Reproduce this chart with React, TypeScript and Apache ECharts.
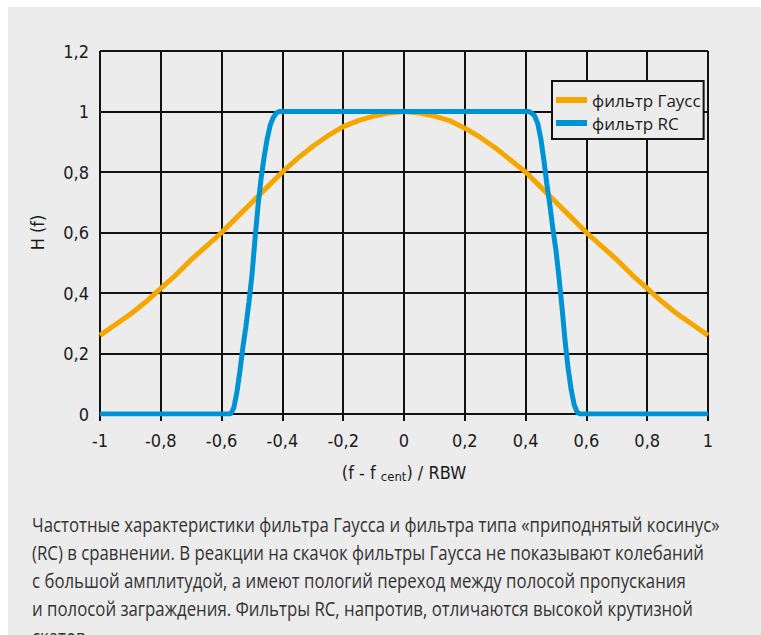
import React, { useEffect, useRef } from "react";
import * as echarts from "echarts";

const xTicks = [-1, -0.8, -0.6, -0.4, -0.2, 0, 0.2, 0.4, 0.6, 0.8, 1];
const yTicks = [0, 0.2, 0.4, 0.6, 0.8, 1, 1.2];

const gaussX = [
  -1, -0.95, -0.9, -0.85, -0.8, -0.75, -0.7, -0.65, -0.6, -0.55, -0.5, -0.45, -0.4, -0.35, -0.3, -0.25, -0.2,
  -0.15, -0.1, -0.05, 0, 0.05, 0.1, 0.15, 0.2, 0.25, 0.3, 0.35, 0.4, 0.45, 0.5, 0.55, 0.6, 0.65, 0.7, 0.75,
  0.8, 0.85, 0.9, 0.95, 1,
];
const gaussY = [
  0.26, 0.295, 0.33, 0.37, 0.415, 0.46, 0.51, 0.555, 0.6, 0.65, 0.7, 0.75, 0.8, 0.845, 0.885, 0.92, 0.95,
  0.97, 0.985, 0.995, 1.0, 0.995, 0.985, 0.97, 0.945, 0.915, 0.88, 0.84, 0.8, 0.75, 0.7, 0.65, 0.6, 0.555,
  0.51, 0.46, 0.415, 0.37, 0.33, 0.295, 0.26,
];

const rcX = [
  -1, -0.57, -0.56, -0.55, -0.54, -0.53, -0.52, -0.51, -0.5, -0.49, -0.48, -0.47, -0.46, -0.45, -0.44, -0.43,
  -0.42, -0.41, 0.41, 0.42, 0.43, 0.44, 0.45, 0.46, 0.47, 0.48, 0.49, 0.5, 0.51, 0.52, 0.53, 0.54, 0.55, 0.56,
  0.57, 0.58, 1,
];
const rcY = [
  0, 0, 0.02, 0.07, 0.14, 0.22, 0.29, 0.37, 0.46, 0.58, 0.69, 0.78, 0.85, 0.91, 0.955, 0.98, 0.995, 1, 1,
  0.995, 0.985, 0.96, 0.91, 0.84, 0.76, 0.69, 0.61, 0.54, 0.45, 0.35, 0.24, 0.15, 0.08, 0.03, 0.005, 0, 0,
];

const seriesNames = ["фильтр Гаусс", "фильтр RC"];
const captionLines = [
  "Частотные характеристики фильтра Гаусса и фильтра типа «приподнятый косинус»",
  "(RC) в сравнении. В реакции на скачок фильтры Гаусса не показывают колебаний",
  "с большой амплитудой, а имеют пологий переход между полосой пропускания",
  "и полосой заграждения. Фильтры RC, напротив, отличаются высокой крутизной",
  "скатов.",
];

const BG = "#ececec";
const NARROW = "'Liberation Sans Narrow', 'DejaVu Sans Condensed', 'Arial Narrow', sans-serif";
const fmt = (v: number) => String(Math.round(v * 10) / 10).replace(".", ",");

export default function App() {
  const ref = useRef<HTMLDivElement>(null);
  useEffect(() => {
    if (!ref.current) return;
    const chart = echarts.init(ref.current, null, { renderer: "svg" });
    const option: any = {
      animation: false,
      backgroundColor: BG,
      grid: { left: 92, top: 44, width: 608, height: 363, containLabel: false },
      legend: {
        data: seriesNames,
        left: 544,
        top: 74,
        orient: "vertical",
        itemWidth: 31,
        itemHeight: 6,
        itemGap: 5,
        icon: "rect",
        padding: [10, 3, 7, 4],
        backgroundColor: BG,
        borderColor: "#111",
        borderWidth: 2,
        borderRadius: 0,
        textStyle: { fontFamily: "'Open Sans', sans-serif", fontSize: 17, color: "#1a1a1a", lineHeight: 18 },
      },
      xAxis: {
        type: "value",
        min: -1,
        max: 1,
        interval: 0.2,
        name: "(f - f {sub|cent}) / RBW",
        nameLocation: "middle",
        nameGap: 48,
        nameTextStyle: {
          fontFamily: NARROW,
          fontSize: 18,
          color: "#1a1a1a",
          rich: { sub: { fontFamily: NARROW, fontSize: 13, color: "#1a1a1a", padding: [8, 0, 0, 0] } },
        },
        axisLine: { show: true, onZero: false, lineStyle: { color: "#111", width: 2 } },
        axisTick: { show: true, length: 7, lineStyle: { color: "#111", width: 2 } },
        axisLabel: { formatter: fmt, margin: 17, fontFamily: NARROW, fontSize: 18, color: "#1a1a1a" },
        splitLine: { show: true, lineStyle: { color: "#111", width: 2 } },
      },
      yAxis: {
        type: "value",
        min: 0,
        max: 1.2,
        interval: 0.2,
        name: "H (f)",
        nameLocation: "middle",
        nameGap: 54,
        nameRotate: 90,
        nameTextStyle: { fontFamily: NARROW, fontSize: 18, color: "#1a1a1a" },
        axisLine: { show: true, lineStyle: { color: "#111", width: 2 } },
        axisTick: { show: true, length: 6, lineStyle: { color: "#111", width: 2 } },
        axisLabel: { formatter: fmt, margin: 11, fontFamily: NARROW, fontSize: 18, color: "#1a1a1a" },
        splitLine: { show: true, lineStyle: { color: "#111", width: 2 } },
      },
      series: [
        {
          name: seriesNames[0],
          type: "line",
          data: gaussX.map((x, i) => [x, gaussY[i]]),
          showSymbol: false,
          color: "#f5a700",
          lineStyle: { width: 5, color: "#f5a700" },
          z: 3,
        },
        {
          name: seriesNames[1],
          type: "line",
          data: rcX.map((x, i) => [x, rcY[i]]),
          showSymbol: false,
          color: "#0093d3",
          lineStyle: { width: 5, color: "#0093d3" },
          z: 4,
        },
      ],
      graphic: captionLines.map((t, i) => ({
        type: "text",
        x: 24,
        y: 517 + i * 28,
        scaleX: 0.84,
        style: {
          text: t,
          fontFamily: "'Open Sans', sans-serif",
          fontSize: 20,
          fill: "#333",
          verticalAlign: "middle",
          align: "left",
        },
      })),
    };
    chart.setOption(option);
    return () => chart.dispose();
  }, []);
  return (
    <div
      ref={ref}
      style={{ position: "fixed", left: 8, top: 7, width: 753, height: 628 }}
    />
  );
}
